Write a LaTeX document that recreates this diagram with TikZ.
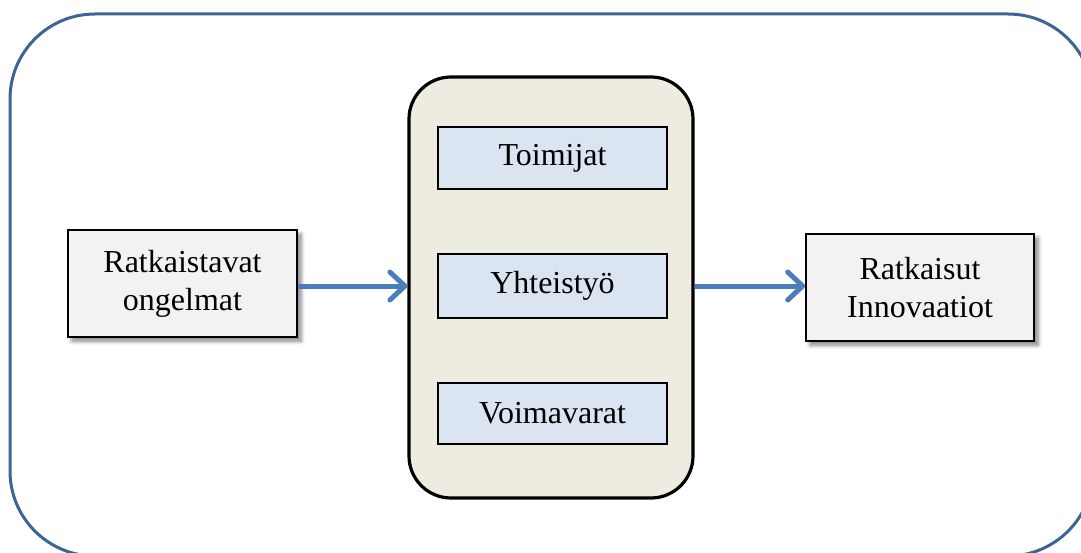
\documentclass[tikz,border=0pt]{standalone}
\usepackage{fontspec}
\setmainfont{Liberation Serif}
\usetikzlibrary{arrows.meta,shadows.blur}
\definecolor{frameblue}{HTML}{3C6494}
\definecolor{arrowblue}{HTML}{4A7EBB}
\definecolor{corefill}{HTML}{EEECE1}
\definecolor{itemfill}{HTML}{DBE5F1}
\definecolor{sidefill}{HTML}{F2F2F2}
\tikzset{
  sidebox/.style={draw=black, line width=1.6pt, fill=sidefill, align=center,
    font=\fontsize{32}{38}\selectfont, inner sep=0pt,
    blur shadow={shadow xshift=4pt, shadow yshift=-4pt, shadow blur steps=6, shadow blur radius=4pt, shadow opacity=50}},
  itembox/.style={draw=black, line width=1.6pt, fill=itemfill, align=center,
    font=\fontsize{32}{38}\selectfont, inner sep=0pt,
    minimum width=229pt},
  corebox/.style={draw=black, line width=3.2pt, fill=corefill, rounded corners=42pt},
  flow/.style={draw=arrowblue, line width=5pt,
    -{Straight Barb[length=15pt, width=28pt, round]}},
}
\begin{document}
\begin{tikzpicture}[x=1pt, y=-1pt]
  \useasboundingbox (0,0) rectangle (1081,553);
  % outer frame, partly cut off by the page edge
  \draw[frameblue, line width=3pt, rounded corners=85pt] (10,14) rectangle (1093,556);
  % central block with its three items
  \node[corebox, minimum width=284pt, minimum height=421pt] (core) at (551,287.5) {};
  \node[itembox, minimum height=62pt] (toim) at (552.5,158) {Toimijat};
  \node[itembox, minimum height=64pt] (yht) at (552.5,286) {Yhteistyö};
  \node[itembox, minimum height=61pt] (voim) at (552.5,413.5) {Voimavarat};
  % input and output boxes
  \node[sidebox, minimum width=229pt, minimum height=107pt] (prob) at (182.5,283.5) {Ratkaistavat\\ongelmat};
  \node[sidebox, minimum width=228pt, minimum height=107pt] (sol) at (920,287.5) {Ratkaisut\\Innovaatiot};
  % flow arrows
  \draw[flow] (prob.east |- yht) -- (core.west |- yht);
  \draw[flow] (core.east |- yht) -- (sol.west |- yht);
\end{tikzpicture}
\end{document}
